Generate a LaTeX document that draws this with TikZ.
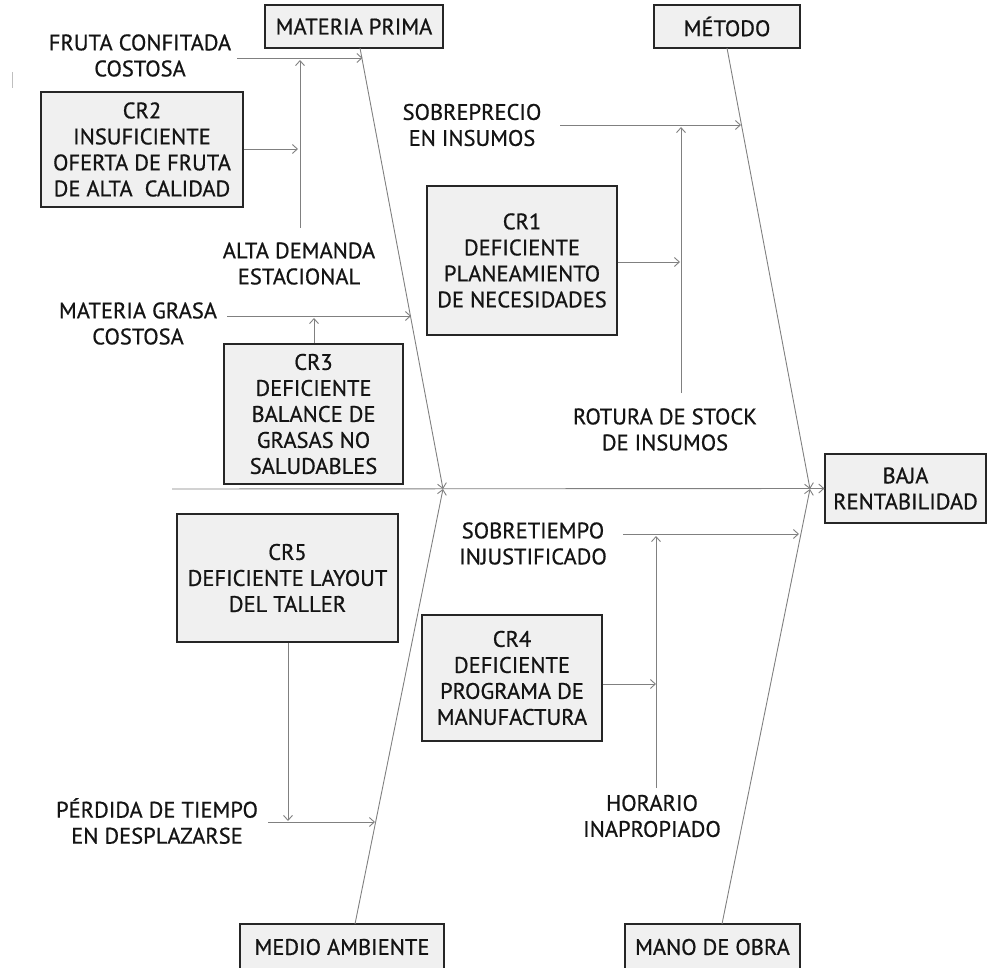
\documentclass[tikz,border=0pt]{standalone}
\usepackage{fontspec}
\setmainfont{PT Sans}
\newfontfamily\labelfont{PT Sans}[FakeBold=0.7]
\usetikzlibrary{arrows.meta,calc}
\begin{document}
\begin{tikzpicture}[x=1pt,y=-1pt,
  font=\labelfont\fontsize{22.5}{26}\selectfont,
  box/.style={draw=black!85, line width=1.2pt, fill=black!6, align=center,
    inner sep=0pt, text=black!92},
  lbl/.style={align=center, inner sep=0pt, text=black!92},
  link/.style={draw=black!50, line width=0.9pt,
    -{Straight Barb[length=5pt,width=9pt]}},
  plain/.style={draw=black!50, line width=0.9pt}]
\useasboundingbox (0,0) rectangle (988,968);

% category boxes
\node[box, minimum width=178pt, minimum height=43pt] (mp)   at (354,26.5) {MATERIA PRIMA};
\node[box, minimum width=146pt, minimum height=43pt] (met)  at (727,26.5) {MÉTODO};
\node[box, minimum width=204pt, minimum height=46pt] (med)  at (342,947) {MEDIO AMBIENTE};
\node[box, minimum width=175pt, minimum height=46pt] (mano) at (712.5,947) {MANO DE OBRA};
\node[box, minimum width=161pt, minimum height=69pt] (baja) at (905.5,488.5) {BAJA\\RENTABILIDAD};

% root-cause boxes
\node[box, minimum width=202pt, minimum height=115pt] (cr2) at (142,149.5) {CR2\\INSUFICIENTE\\OFERTA DE FRUTA\\DE ALTA~~CALIDAD};
\node[box, minimum width=179pt, minimum height=140pt] (cr3) at (313.5,414) {CR3\\DEFICIENTE\\BALANCE DE\\GRASAS NO\\SALUDABLES};
\node[box, minimum width=190pt, minimum height=149pt] (cr1) at (522,260.5) {CR1\\DEFICIENTE\\PLANEAMIENTO\\DE NECESIDADES};
\node[box, minimum width=221pt, minimum height=128pt] (cr5) at (287.5,578) {CR5\\DEFICIENTE LAYOUT\\DEL TALLER};
\node[box, minimum width=180pt, minimum height=126pt] (cr4) at (512,678) {CR4\\DEFICIENTE\\PROGRAMA DE\\MANUFACTURA};

% cause labels
\node[lbl] (fruta)  at (140,55.5)  {FRUTA CONFITADA\\COSTOSA};
\node[lbl] (alta)   at (299,263.5) {ALTA DEMANDA\\ESTACIONAL};
\node[lbl] (grasa)  at (138,323.5) {MATERIA GRASA\\COSTOSA};
\node[lbl] (sobre)  at (472,125)   {SOBREPRECIO\\EN INSUMOS};
\node[lbl] (rotura) at (665,429.5) {ROTURA DE STOCK\\DE INSUMOS};
\node[lbl] (stiempo) at (533,543.5) {SOBRETIEMPO\\INJUSTIFICADO};
\node[lbl] (horario) at (652,816)  {HORARIO\\INAPROPIADO};
\node[lbl] (perdida) at (157,821)  {PÉRDIDA DE TIEMPO\\EN DESPLAZARSE};

% spine and bone junctions
\coordinate (spL) at (172,489);
\coordinate (jL) at (443,489);
\coordinate (jR) at (810,489);
\coordinate (mpB) at (360,48);
\coordinate (metB) at (727,48);
\coordinate (medT) at (355,924);
\coordinate (manoT) at (722,924);

\draw[link] (spL) -- (baja.west);
\draw[link] (mpB) -- (jL);
\draw[link] (medT) -- (jL);
\draw[link] (metB) -- (jR);
\draw[link] (manoT) -- (jR);

% materia prima branches
\coordinate (frS) at (237,58);
\coordinate (frE) at (362.5,58);
\coordinate (alS) at (300,228);
\coordinate (alE) at (300,60);
\coordinate (c2E) at (298,149);
\draw[link] (frS) -- (frE);
\draw[link] (alS) -- (alE);
\draw[link] (cr2.east |- c2E) -- (c2E);

\coordinate (grS) at (227,316);
\coordinate (grE) at (411,316);
\coordinate (c3E) at (314,318);
\draw[link] (grS) -- (grE);
\draw[link] (cr3.north -| c3E) -- (c3E);

% metodo branches
\coordinate (soS) at (560,125);
\coordinate (soE) at (741,125);
\coordinate (roS) at (681,393);
\coordinate (roE) at (681,127);
\coordinate (c1E) at (680,262);
\draw[link] (soS) -- (soE);
\draw[link] (roS) -- (roE);
\draw[link] (cr1.east |- c1E) -- (c1E);

% medio ambiente branches
\coordinate (c5E) at (288,821);
\coordinate (peS) at (268,822);
\coordinate (peE) at (375,822);
\draw[link] (cr5.south -| c5E) -- (c5E);
\draw[link] (peS) -- (peE);

% mano de obra branches
\coordinate (stS) at (623,534);
\coordinate (stE) at (799,534);
\coordinate (hoS) at (656,788);
\coordinate (hoE) at (656,536);
\coordinate (c4E) at (656,684);
\draw[link] (stS) -- (stE);
\draw[link] (hoS) -- (hoE);
\draw[link] (cr4.east |- c4E) -- (c4E);

% faint edge mark
\draw[black!25, line width=0.8pt] (12,72) -- (12,88);
\end{tikzpicture}
\end{document}
